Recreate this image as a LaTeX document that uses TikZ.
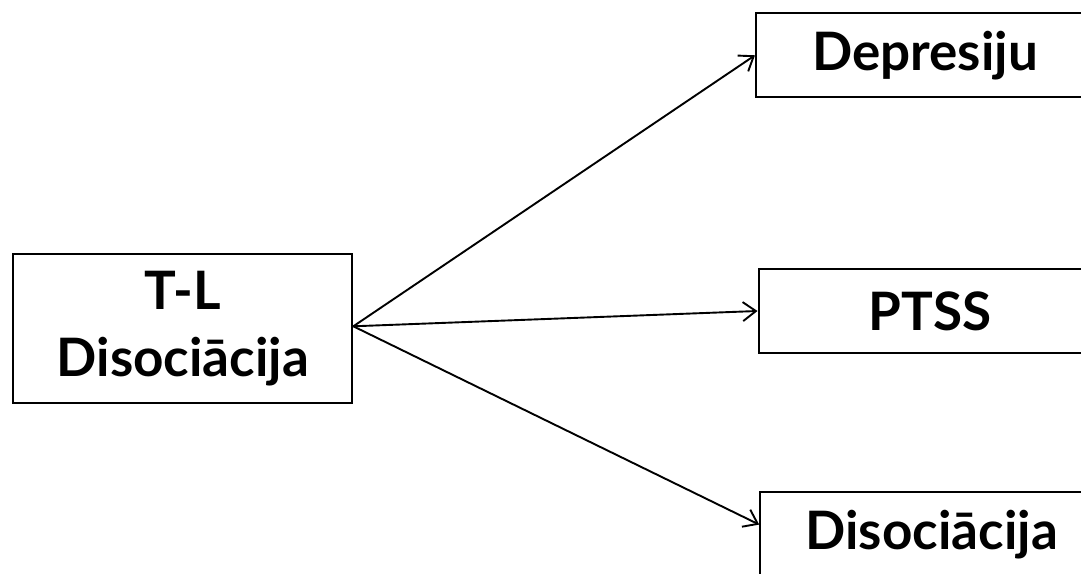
\documentclass[tikz,border=0pt]{standalone}
\usepackage{fontspec}
\setmainfont{Lato}
\usetikzlibrary{arrows.meta}
\begin{document}
\begin{tikzpicture}[x=1pt,y=1pt,
  box/.style={draw=black,line width=2pt,fill=white,inner sep=0pt,align=center,
    font=\fontsize{53}{67}\selectfont\bfseries},
  conn/.style={line width=1.9pt,-{Straight Barb[length=13pt,width=19pt,line width=1.9pt]}}]
\useasboundingbox (0,0) rectangle (1081,573);
\fill[white] (0,0) rectangle (1081,573);
\begin{scope}
\clip (0,0) rectangle (1081,573);
\node[box,minimum width=339pt,minimum height=148.7pt] (a) at (182.8,244.7) {T-L\\Disoci\={a}cija};
\node[box,minimum width=338pt,minimum height=84pt] (d1) at (925,517.7) {Depresiju};
\node[box,minimum width=343pt,minimum height=83.7pt] (d2) at (930,262) {PTSS};
\node[box,minimum width=343pt,minimum height=84pt] (d3) at (931.7,38.7) {Disoci\={a}cija};
\coordinate (s) at ([yshift=2pt]a.east);
\coordinate (t3) at ([yshift=9.7pt]d3.west);
\draw[conn] (s) -- (d1.west);
\draw[conn] (s) -- (d2.west);
\draw[conn] (s) -- (t3);
\end{scope}
\end{tikzpicture}
\end{document}
